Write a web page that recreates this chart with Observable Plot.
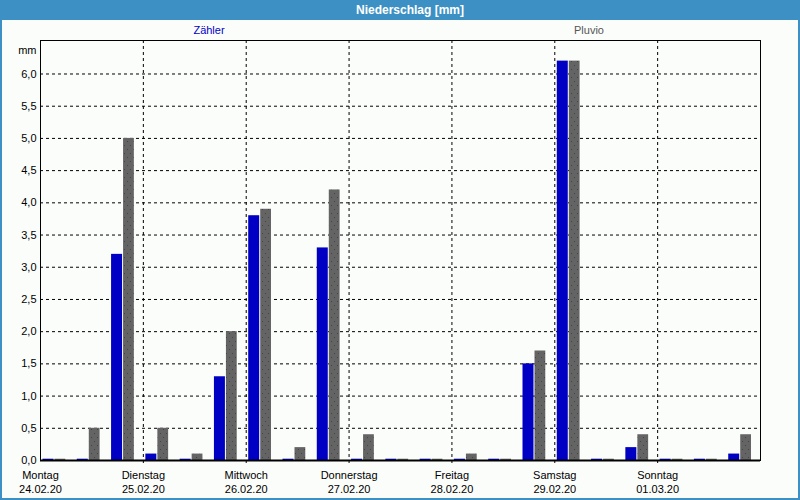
<!DOCTYPE html>
<html>
<head>
<meta charset="utf-8">
<script src="https://cdn.jsdelivr.net/npm/d3@7"></script>
<script src="https://cdn.jsdelivr.net/npm/@observablehq/plot@0.6"></script>
<style>
  html, body { margin: 0; padding: 0; background: #fbfdfb; }
  #wrap { position: relative; width: 800px; height: 500px; overflow: hidden; background: #fbfdfb; font-family: "Liberation Sans", Arial, sans-serif; }
  #title { height: 20px; line-height: 20px; background: #3c90c4; color: #fff; font-weight: bold; font-size: 12px; text-align: center; padding-left: 20px; box-sizing: border-box; }
  #border { position: absolute; left: 0; top: 0; width: 800px; height: 500px; box-sizing: border-box; border: 2px solid #3c90c4; border-top: none; pointer-events: none; }
  .leg { position: absolute; top: 24px; font-size: 11px; transform: translateX(-50%); }
  #chart svg { display: block; }
</style>
</head>
<body>
<div id="wrap">
  <div id="title">Niederschlag [mm]</div>
  <div class="leg" style="left:209px;color:#0000c8">Zähler</div>
  <div class="leg" style="left:589px;color:#555555">Pluvio</div>
  <div id="chart"></div>
  <div id="border"></div>
</div>
<script>
// Days (labels at the start of each day)
const dayNames = ["Montag", "Dienstag", "Mittwoch", "Donnerstag", "Freitag", "Samstag", "Sonntag"];
const dayDates = ["24.02.20", "25.02.20", "26.02.20", "27.02.20", "28.02.20", "29.02.20", "01.03.20"];
// Three 8-hour slots per day, 21 slots
const zaehler = [0.02, 0.02, 3.2, 0.1, 0.02, 1.3, 3.8, 0.02, 3.3, 0.02, 0.02, 0.02, 0.02, 0.02, 1.5, 6.2, 0.02, 0.2, 0.02, 0.02, 0.1];
const pluvio  = [0.02, 0.5, 5.0, 0.5, 0.1, 2.0, 3.9, 0.2, 4.2, 0.4, 0.02, 0.02, 0.1, 0.02, 1.7, 6.2, 0.02, 0.4, 0.02, 0.02, 0.4];
const yTicks = [0, 0.5, 1, 1.5, 2, 2.5, 3, 3.5, 4, 4.5, 5, 5.5, 6];
const slotHours = 8;

const rowsZ = zaehler.map((v, i) => ({x1: i * slotHours, x2: (i + 1) * slotHours, v}));
const rowsP = pluvio.map((v, i) => ({x1: i * slotHours, x2: (i + 1) * slotHours, v}));
const dayTicks = dayNames.map((d, i) => i * 24);
const fmt = d3.format(".1f");

const plot = Plot.plot({
  width: 800,
  height: 480,
  marginLeft: 40,
  marginRight: 40,
  marginTop: 20,
  marginBottom: 40,
  style: {background: "#fbfdfb", fontFamily: "Liberation Sans, Arial, sans-serif", fontSize: "11px", color: "#000"},
  x: {type: "linear", domain: [0, 168]},
  y: {domain: [0, 6.52]},
  marks: [
    Plot.gridY(yTicks.filter(t => t > 0), {stroke: "#000", strokeOpacity: 1, strokeDasharray: "3,3"}),
    Plot.gridX(dayTicks.filter(t => t > 0), {stroke: "#000", strokeOpacity: 1, strokeDasharray: "3,3"}),
    Plot.rectY(rowsZ, {x1: "x1", x2: "x2", y: "v", fill: "#0000c4", insetLeft: 2.5, insetRight: 20.8}),
    Plot.rectY(rowsP, {x1: "x1", x2: "x2", y: "v", fill: "url(#dots)", insetLeft: 14.5, insetRight: 9}),
    Plot.frame({stroke: "#000"}),
    Plot.ruleY([0], {stroke: "#000", strokeWidth: 2}),
    Plot.axisY(yTicks, {tickSize: 0, tickPadding: 4, tickFormat: d => fmt(d).replace(".", ","), label: null}),
    Plot.axisX(dayTicks.filter(t => t > 0), {tickSize: 3, tickFormat: () => "", label: null, stroke: "#000"}),
    Plot.text(dayTicks, {x: d => d, frameAnchor: "bottom", lineAnchor: "top", dy: 9, lineHeight: 1.27, text: (d, i) => dayNames[i] + "\n" + dayDates[i], fill: "#000"}),
    Plot.text(["mm"], {frameAnchor: "top-left", dx: -4, dy: 6, textAnchor: "end", fill: "#000"})
  ]
});

const ns = "http://www.w3.org/2000/svg";
const defs = document.createElementNS(ns, "defs");
defs.innerHTML = '<pattern id="dots" patternUnits="userSpaceOnUse" width="6" height="8">' +
  '<rect width="6" height="8" fill="#646464"></rect>' +
  '<rect x="1" y="1" width="1" height="1" fill="#444444"></rect>' +
  '<rect x="4" y="5" width="1" height="1" fill="#444444"></rect></pattern>';
plot.insertBefore(defs, plot.firstChild);
document.getElementById("chart").appendChild(plot);
</script>
</body>
</html>
